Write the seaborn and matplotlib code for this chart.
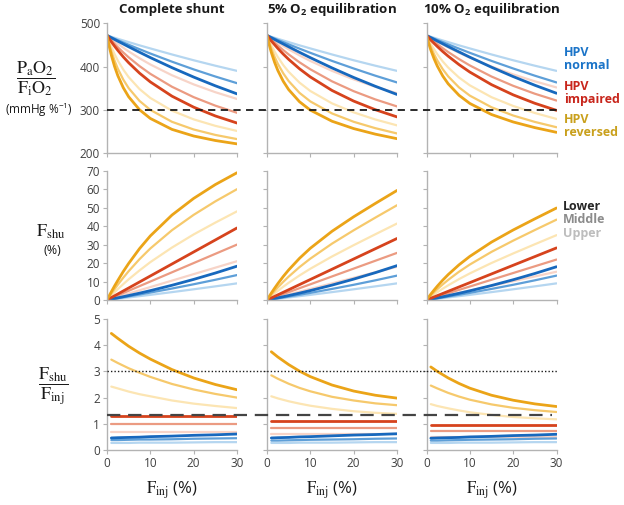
import pandas as pd
import matplotlib
matplotlib.use("Agg")
import matplotlib.pyplot as plt
import matplotlib.transforms as mtransforms
from matplotlib.lines import Line2D
import seaborn as sns

# Finj grid (%) read along the x axis
finj = [0, 0.5, 1, 1.75, 2.5, 3.75, 5, 7.5, 10, 15, 20, 25, 30]
finj_ratio = [1, 2.5, 5, 7.5, 10, 15, 20, 25, 30]

col_titles = ['Complete shunt', r'5% O$_\mathbf{2}$ equilibration', r'10% O$_\mathbf{2}$ equilibration']

### PaO2/FiO2 (mmHg %-1) ###
pf_shunt = {
    'reversed lower':  [472, 447.2, 426.2, 400.1, 378.9, 351.1, 330.0, 300.1, 279.9, 254.6, 239.3, 228.9, 221.1],
    'reversed middle': [472, 452.5, 435.5, 413.5, 395.0, 369.9, 350.0, 320.5, 299.7, 272.1, 254.4, 241.8, 232.2],
    'reversed upper':  [472, 458.1, 445.6, 428.7, 413.9, 393.0, 375.5, 348.0, 327.3, 297.9, 277.8, 262.8, 251.0],
    'impaired lower':  [472, 464.5, 457.3, 447.0, 437.4, 422.4, 408.8, 384.8, 364.4, 331.4, 306.0, 285.7, 269.3],
    'impaired middle': [472, 466.2, 460.6, 452.5, 444.7, 432.6, 421.3, 401.0, 383.1, 353.2, 329.2, 309.5, 293.0],
    'impaired upper':  [472, 467.9, 463.9, 458.1, 452.5, 443.5, 435.0, 419.2, 404.8, 379.8, 358.7, 340.6, 325.0],
    'normal lower':    [472, 469.3, 466.6, 462.7, 458.7, 452.2, 445.7, 433.1, 420.7, 397.4, 375.6, 355.4, 336.8],
    'normal middle':   [472, 469.7, 467.5, 464.2, 461.0, 455.7, 450.4, 440.1, 430.1, 411.2, 393.4, 376.9, 361.5],
    'normal upper':    [472, 470.4, 468.8, 466.5, 464.1, 460.3, 456.5, 449.0, 441.9, 427.9, 414.5, 401.9, 390.0],
}
pf_5 = {
    'reversed lower':  [472, 450.8, 432.6, 409.8, 390.9, 365.9, 346.6, 318.6, 299.2, 273.5, 256.5, 243.6, 233.1],
    'reversed middle': [472, 455.7, 441.3, 422.5, 406.4, 384.3, 366.4, 339.1, 319.3, 291.5, 272.2, 257.4, 245.2],
    'reversed upper':  [472, 460.1, 449.3, 434.8, 421.9, 403.4, 387.8, 362.8, 343.4, 314.8, 294.0, 277.5, 263.9],
    'impaired lower':  [472, 465.5, 459.3, 450.5, 442.0, 428.8, 416.6, 394.8, 375.9, 344.7, 320.1, 300.1, 283.5],
    'impaired middle': [472, 467.0, 462.2, 455.3, 448.6, 438.0, 428.0, 409.8, 393.6, 365.8, 343.0, 323.9, 307.7],
    'impaired upper':  [472, 468.4, 465.0, 460.0, 455.1, 447.3, 439.8, 425.8, 412.9, 390.0, 370.3, 353.2, 338.2],
    'normal lower':    [472, 469.3, 466.6, 462.7, 458.7, 452.2, 445.7, 432.9, 420.5, 396.8, 374.7, 354.3, 335.4],
    'normal middle':   [472, 469.8, 467.8, 464.7, 461.5, 456.5, 451.3, 441.4, 431.7, 413.0, 395.5, 378.8, 363.2],
    'normal upper':    [472, 470.4, 468.8, 466.5, 464.1, 460.3, 456.5, 449.0, 441.9, 427.9, 414.5, 401.9, 390.0],
}
pf_10 = {
    'reversed lower':  [472, 453.8, 438.1, 418.0, 401.0, 378.1, 360.1, 333.5, 314.6, 289.0, 271.8, 258.7, 247.8],
    'reversed middle': [472, 457.8, 445.2, 428.5, 414.0, 393.8, 377.3, 351.7, 332.7, 305.8, 286.7, 271.9, 259.6],
    'reversed upper':  [472, 461.8, 452.5, 439.8, 428.4, 411.8, 397.7, 374.6, 356.5, 329.1, 308.8, 292.5, 278.8],
    'impaired lower':  [472, 466.5, 461.2, 453.6, 446.3, 434.7, 424.0, 404.5, 387.2, 358.1, 334.5, 315.0, 298.6],
    'impaired middle': [472, 467.7, 463.6, 457.5, 451.7, 442.4, 433.6, 417.3, 402.5, 376.9, 355.4, 337.1, 321.3],
    'impaired upper':  [472, 469.0, 466.0, 461.7, 457.5, 450.8, 444.2, 431.9, 420.5, 399.9, 381.8, 365.8, 351.6],
    'normal lower':    [472, 469.3, 466.7, 462.8, 458.9, 452.6, 446.2, 433.8, 421.6, 398.4, 376.8, 356.7, 338.2],
    'normal middle':   [472, 469.8, 467.8, 464.7, 461.5, 456.5, 451.3, 441.4, 431.7, 413.0, 395.5, 378.8, 363.2],
    'normal upper':    [472, 470.4, 468.8, 466.5, 464.1, 460.3, 456.5, 449.0, 441.9, 427.9, 414.5, 401.9, 390.0],
}

### Fshu (%) ###
fshu_shunt = {
    'reversed lower':  [0, 2.26, 4.45, 7.62, 10.6, 15.40, 19.8, 27.8, 34.7, 46.0, 55.0, 62.5, 68.9],
    'reversed middle': [0, 1.75, 3.45, 5.92, 8.3, 12.07, 15.6, 22.1, 27.9, 37.8, 46.1, 53.4, 60.0],
    'reversed upper':  [0, 1.22, 2.42, 4.17, 5.9, 8.58, 11.2, 16.0, 20.5, 28.4, 35.5, 41.9, 48.0],
    'impaired lower':  [0, 0.65, 1.3, 2.28, 3.25, 4.88, 6.5, 9.75, 13.0, 19.5, 26.0, 32.5, 39.0],
    'impaired middle': [0, 0.5, 1.0, 1.75, 2.5, 3.75, 5.0, 7.5, 10.0, 15.0, 20.0, 25.0, 30.0],
    'impaired upper':  [0, 0.35, 0.7, 1.23, 1.75, 2.63, 3.5, 5.25, 7.0, 10.5, 14.0, 17.5, 21.0],
    'normal lower':    [0, 0.23, 0.46, 0.81, 1.17, 1.78, 2.41, 3.70, 5.07, 7.98, 11.16, 14.60, 18.30],
    'normal middle':   [0, 0.19, 0.38, 0.67, 0.96, 1.45, 1.95, 2.97, 4.02, 6.21, 8.52, 10.95, 13.50],
    'normal upper':    [0, 0.14, 0.27, 0.47, 0.68, 1.02, 1.37, 2.08, 2.79, 4.26, 5.80, 7.38, 9.00],
}
fshu_5 = {
    'reversed lower':  [0, 1.91, 3.75, 6.38, 8.87, 12.74, 16.28, 22.57, 28.02, 37.20, 45.06, 52.28, 59.31],
    'reversed middle': [0, 1.45, 2.85, 4.87, 6.80, 9.83, 12.66, 17.81, 22.40, 30.51, 37.74, 44.60, 51.30],
    'reversed upper':  [0, 1.04, 2.05, 3.52, 4.94, 7.19, 9.32, 13.28, 16.92, 23.55, 29.68, 35.58, 41.40],
    'impaired lower':  [0, 0.56, 1.11, 1.94, 2.78, 4.16, 5.55, 8.33, 11.1, 16.65, 22.2, 27.75, 33.3],
    'impaired middle': [0, 0.43, 0.85, 1.49, 2.13, 3.19, 4.25, 6.38, 8.5, 12.75, 17.0, 21.25, 25.5],
    'impaired upper':  [0, 0.3, 0.6, 1.05, 1.5, 2.25, 3.0, 4.5, 6.0, 9.0, 12.0, 15.0, 18.0],
    'normal lower':    [0, 0.23, 0.46, 0.81, 1.17, 1.78, 2.41, 3.72, 5.10, 8.06, 11.30, 14.80, 18.60],
    'normal middle':   [0, 0.18, 0.36, 0.63, 0.91, 1.37, 1.86, 2.84, 3.85, 5.99, 8.24, 10.65, 13.20],
    'normal upper':    [0, 0.14, 0.27, 0.47, 0.68, 1.02, 1.37, 2.08, 2.79, 4.26, 5.80, 7.38, 9.00],
}
fshu_10 = {
    'reversed lower':  [0, 1.62, 3.17, 5.39, 7.50, 10.76, 13.75, 19.04, 23.62, 31.34, 37.90, 43.93, 49.80],
    'reversed middle': [0, 1.25, 2.46, 4.20, 5.86, 8.47, 10.89, 15.29, 19.20, 26.06, 32.14, 37.88, 43.50],
    'reversed upper':  [0, 0.89, 1.75, 3.00, 4.21, 6.13, 7.94, 11.31, 14.40, 20.03, 25.20, 30.18, 35.10],
    'impaired lower':  [0, 0.47, 0.94, 1.65, 2.35, 3.53, 4.70, 7.05, 9.40, 14.10, 18.80, 23.50, 28.20],
    'impaired middle': [0, 0.37, 0.73, 1.28, 1.83, 2.74, 3.65, 5.48, 7.30, 10.95, 14.60, 18.25, 21.90],
    'impaired upper':  [0, 0.26, 0.51, 0.89, 1.28, 1.91, 2.55, 3.83, 5.10, 7.65, 10.20, 12.75, 15.30],
    'normal lower':    [0, 0.23, 0.45, 0.80, 1.15, 1.74, 2.36, 3.63, 4.97, 7.84, 10.96, 14.35, 18.00],
    'normal middle':   [0, 0.18, 0.36, 0.63, 0.91, 1.37, 1.86, 2.84, 3.85, 5.99, 8.24, 10.65, 13.20],
    'normal upper':    [0, 0.14, 0.27, 0.47, 0.68, 1.02, 1.37, 2.08, 2.79, 4.26, 5.80, 7.38, 9.00],
}

### Fshu/Finj ###
ratio_shunt = {
    'reversed lower':  [4.45, 4.26, 3.96, 3.70, 3.47, 3.07, 2.75, 2.50, 2.30],
    'reversed middle': [3.45, 3.32, 3.12, 2.95, 2.79, 2.52, 2.31, 2.14, 2.00],
    'reversed upper':  [2.42, 2.35, 2.23, 2.13, 2.05, 1.89, 1.77, 1.68, 1.60],
    'impaired lower':  [1.30, 1.30, 1.30, 1.30, 1.30, 1.30, 1.30, 1.30, 1.30],
    'impaired middle': [1.00, 1.00, 1.00, 1.00, 1.00, 1.00, 1.00, 1.00, 1.00],
    'impaired upper':  [0.70, 0.70, 0.70, 0.70, 0.70, 0.70, 0.70, 0.70, 0.70],
    'normal lower':    [0.46, 0.47, 0.48, 0.49, 0.51, 0.53, 0.56, 0.58, 0.61],
    'normal middle':   [0.38, 0.38, 0.39, 0.40, 0.40, 0.41, 0.43, 0.44, 0.45],
    'normal upper':    [0.27, 0.27, 0.27, 0.28, 0.28, 0.28, 0.29, 0.30, 0.30],
}
ratio_5 = {
    'reversed lower':  [3.75, 3.55, 3.26, 3.01, 2.80, 2.48, 2.25, 2.09, 1.98],
    'reversed middle': [2.85, 2.72, 2.53, 2.37, 2.24, 2.03, 1.89, 1.78, 1.71],
    'reversed upper':  [2.05, 1.97, 1.86, 1.77, 1.69, 1.57, 1.48, 1.42, 1.38],
    'impaired lower':  [1.11, 1.11, 1.11, 1.11, 1.11, 1.11, 1.11, 1.11, 1.11],
    'impaired middle': [0.85, 0.85, 0.85, 0.85, 0.85, 0.85, 0.85, 0.85, 0.85],
    'impaired upper':  [0.60, 0.60, 0.60, 0.60, 0.60, 0.60, 0.60, 0.60, 0.60],
    'normal lower':    [0.46, 0.47, 0.48, 0.50, 0.51, 0.54, 0.57, 0.59, 0.62],
    'normal middle':   [0.36, 0.36, 0.37, 0.38, 0.39, 0.40, 0.41, 0.43, 0.44],
    'normal upper':    [0.27, 0.27, 0.27, 0.28, 0.28, 0.28, 0.29, 0.30, 0.30],
}
ratio_10 = {
    'reversed lower':  [3.17, 3.00, 2.75, 2.54, 2.36, 2.09, 1.90, 1.76, 1.66],
    'reversed middle': [2.46, 2.35, 2.18, 2.04, 1.92, 1.74, 1.61, 1.52, 1.45],
    'reversed upper':  [1.75, 1.68, 1.59, 1.51, 1.44, 1.34, 1.26, 1.21, 1.17],
    'impaired lower':  [0.94, 0.94, 0.94, 0.94, 0.94, 0.94, 0.94, 0.94, 0.94],
    'impaired middle': [0.73, 0.73, 0.73, 0.73, 0.73, 0.73, 0.73, 0.73, 0.73],
    'impaired upper':  [0.51, 0.51, 0.51, 0.51, 0.51, 0.51, 0.51, 0.51, 0.51],
    'normal lower':    [0.45, 0.46, 0.47, 0.48, 0.50, 0.52, 0.55, 0.57, 0.60],
    'normal middle':   [0.36, 0.36, 0.37, 0.38, 0.39, 0.40, 0.41, 0.43, 0.44],
    'normal upper':    [0.27, 0.27, 0.27, 0.28, 0.28, 0.28, 0.29, 0.30, 0.30],
}

pf_ref = 300
ratio_ref_dotted = 3.0
ratio_ref_dashed = 1.33

# draw lightest first so the dark lines sit on top
order = ['normal upper', 'impaired upper', 'reversed upper',
         'normal middle', 'impaired middle', 'reversed middle',
         'normal lower', 'impaired lower', 'reversed lower']
colors = {
    'normal lower': '#1768bd', 'normal middle': '#5e9fd8', 'normal upper': '#b5d6f0',
    'impaired lower': '#d6431d', 'impaired middle': '#eb9b82', 'impaired upper': '#f7d4c8',
    'reversed lower': '#eba418', 'reversed middle': '#f6c96c', 'reversed upper': '#fce5b3',
}
widths = {k: (2.0 if 'lower' in k else 1.6) for k in order}

sns.set_style('ticks')
plt.rcParams['font.family'] = ['Open Sans', 'DejaVu Sans']
plt.rcParams['mathtext.fontset'] = 'custom'
plt.rcParams['mathtext.rm'] = 'Open Sans'
plt.rcParams['mathtext.bf'] = 'Open Sans:bold'

W, H = 624, 505
fig = plt.figure(figsize=(W / 100, H / 100), dpi=100)

lefts = [107, 267, 426.5]
tops = [23.3, 170.7, 319]
bottoms = [153, 300, 450]
panel_w = 130

rows_data = [[pf_shunt, pf_5, pf_10], [fshu_shunt, fshu_5, fshu_10], [ratio_shunt, ratio_5, ratio_10]]
rows_x = [finj, finj, finj_ratio]
ylims = [(200, 500), (0, 70), (0, 5)]
yticks = [[200, 300, 400, 500], list(range(0, 71, 10)), list(range(0, 6))]

axes = []
for r in range(3):
    row_axes = []
    for c in range(3):
        ax = fig.add_axes([lefts[c] / W, 1 - bottoms[r] / H, panel_w / W, (bottoms[r] - tops[r]) / H])
        ax.patch.set_visible(False)
        data = rows_data[r][c]
        df = pd.DataFrame([(name, x, v) for name in order for x, v in zip(rows_x[r], data[name])],
                          columns=['curve', 'finj', 'value'])
        sns.lineplot(data=df, x='finj', y='value', hue='curve', hue_order=order, palette=colors,
                     size='curve', size_order=order, sizes=widths, estimator=None, sort=False,
                     legend=False, ax=ax)
        ax.set_xlim(0, 30)
        ax.set_ylim(*ylims[r])
        ax.set_xticks([0, 10, 20, 30])
        ax.set_yticks(yticks[r])
        ax.set_xlabel('')
        ax.set_ylabel('')
        sns.despine(ax=ax)
        for s in ['left', 'bottom']:
            ax.spines[s].set_color('#b3b3b3')
            ax.spines[s].set_linewidth(1)
        ax.tick_params(direction='out', length=3, width=0.8, color='#b3b3b3',
                       labelcolor='#404040', labelsize=8.5, pad=2)
        if c > 0:
            ax.tick_params(labelleft=False)
        if r < 2:
            ax.tick_params(labelbottom=False)
        row_axes.append(ax)
    axes.append(row_axes)

# reference lines running across all three columns
x0, x1 = 107 / W, 557 / W
tr = mtransforms.blended_transform_factory(fig.transFigure, axes[0][0].transData)
fig.add_artist(Line2D([x0, x1], [pf_ref, pf_ref], transform=tr, color='#1a1a1a',
                      lw=1.3, linestyle=(0, (4, 3))))
tr3 = mtransforms.blended_transform_factory(fig.transFigure, axes[2][0].transData)
fig.add_artist(Line2D([x0, x1], [ratio_ref_dotted, ratio_ref_dotted], transform=tr3,
                      color='#1a1a1a', lw=1.0, linestyle=(0, (1, 1.5))))
fig.add_artist(Line2D([x0, 552 / W], [ratio_ref_dashed, ratio_ref_dashed], transform=tr3,
                      color='#444444', lw=1.6, linestyle=(0, (6, 3.5))))

# column titles and bottom labels
for c in range(3):
    cx = (lefts[c] + panel_w / 2) / W
    fig.text(cx, 1 - 10 / H, col_titles[c], ha='center', va='center', fontsize=9.5,
             fontweight='bold', color='#1a1a1a')
    fig.text(cx, 1 - 490 / H, r'$\mathrm{F_{inj}}$ (%)', ha='center', va='center',
             fontsize=12, math_fontfamily='stix', color='#1a1a1a')

# row labels
fig.text(36 / W, 1 - 79 / H, r'$\dfrac{\mathrm{P_aO_2}}{\mathrm{F_iO_2}}$', ha='center', va='center',
         fontsize=13, math_fontfamily='stix', color='#1a1a1a')
fig.text(39 / W, 1 - 110 / H, '(mmHg %$^{-1}$)', ha='center', va='center', fontsize=8.5, color='#1a1a1a')
fig.text(51 / W, 1 - 232 / H, r'$\mathrm{F_{shu}}$', ha='center', va='center', fontsize=13,
         math_fontfamily='stix', color='#1a1a1a')
fig.text(52 / W, 1 - 250 / H, '(%)', ha='center', va='center', fontsize=9, color='#1a1a1a')
fig.text(53 / W, 1 - 386 / H, r'$\dfrac{\mathrm{F_{shu}}}{\mathrm{F_{inj}}}$', ha='center', va='center',
         fontsize=13, math_fontfamily='stix', color='#1a1a1a')

# right-hand keys
for label, color, y in [('HPV\nnormal', '#1b74c8', 59), ('HPV\nimpaired', '#c8261c', 93),
                        ('HPV\nreversed', '#c9a01c', 126)]:
    fig.text(564 / W, 1 - y / H, label, ha='left', va='center', fontsize=9, fontweight='bold',
             color=color, linespacing=0.95)
for label, color, y in [('Lower', '#262626', 207), ('Middle', '#8c8c8c', 220), ('Upper', '#bdbdbd', 233)]:
    fig.text(563 / W, 1 - y / H, label, ha='left', va='center', fontsize=9, fontweight='bold', color=color)

fig.savefig('out.png', dpi=100)
